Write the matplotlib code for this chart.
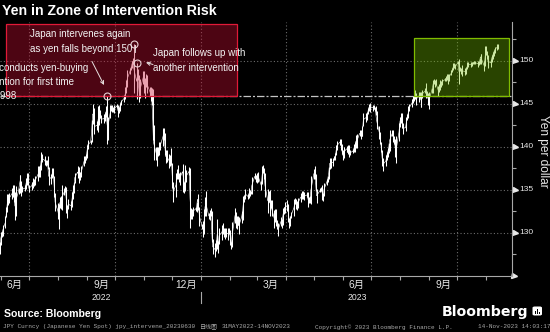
import matplotlib
matplotlib.use('Agg')
import matplotlib.pyplot as plt
import matplotlib.dates as mdates
import matplotlib.transforms as mtransforms
from matplotlib.patches import Rectangle, FancyBboxPatch
from matplotlib import font_manager
import numpy as np
import pandas as pd

W, H = 550, 332

# ---------------- data (USD/JPY daily lows / highs, 31 May 2022 - 14 Nov 2023) ----------------
lows = [
    127.5, 128.6, 129.5, 129.6,
    130.6, 131.8, 132.4, 133.2, 133.4,
    133.9, 134.1, 133.6, 131.5, 132.0,
    134.5, 134.6, 135.7, 134.3, 134.7,
    134.8, 135.1, 135.6, 135.5, 134.7,
    135.0, 135.2, 135.4, 135.6, 135.7,
    136.0, 136.5, 136.5, 137.3, 138.2,
    137.9, 137.7, 137.9, 137.4, 135.6,
    135.7, 136.4, 136.5, 134.2, 132.5,
    131.6, 130.4, 132.9, 132.8, 132.6,
    134.4, 134.7, 132.3, 131.7, 132.7,
    132.6, 133.0, 133.9, 134.6, 135.8,
    136.4, 135.8, 136.4, 136.1, 136.5,
    137.8, 138.1, 138.4, 138.7, 139.7,
    140.3, 140.6, 142.6, 142.9, 141.5,
    142.0, 141.7, 142.5, 143.3, 142.7,
    142.7, 143.0, 143.4, 140.3, 140.8,
    143.3, 144.2, 144.0, 144.0, 143.9,
    144.5, 143.5, 143.9, 144.1, 144.8,
    145.2, 145.3, 145.6, 146.3, 146.9,
    148.5, 148.9, 149.2, 149.6, 146.2,
    145.5, 147.8, 146.0, 145.2, 145.7,
    147.3, 146.2, 145.7, 147.0, 146.3,
    145.9, 145.3, 144.9, 140.8, 138.5,
    138.4, 137.7, 138.9, 139.0, 139.6,
    140.1, 140.8, 139.0, 138.1, 138.2,
    137.5, 137.7, 137.9, 135.2, 133.6,
    134.1, 136.2, 136.3, 135.9, 135.6,
    136.2, 134.7, 134.6, 134.9, 135.9,
    136.7, 130.6, 131.6, 131.6, 132.0,
    132.5, 132.4, 133.3, 132.6, 130.8,
    130.4, 129.5, 129.9, 131.9, 131.9,
    131.6, 131.5, 131.9, 128.9, 127.5,
    127.2, 127.9, 128.1, 127.6, 128.7,
    129.2, 129.9, 129.5, 129.3, 129.5,
    129.2, 129.8, 128.6, 128.1, 128.3,
    131.1, 130.5, 130.4, 130.9, 129.8,
    131.1, 131.5, 132.7, 133.6, 133.9,
    133.9, 134.0, 134.3, 134.5, 134.5,
    136.2, 135.9, 135.8, 136.4, 135.9,
    135.0, 135.7, 136.9, 136.2, 134.1,
    132.3, 133.6, 132.0, 132.9, 131.9,
    130.6, 131.3, 130.8, 130.4, 129.6,
    130.8, 130.5, 130.9, 132.2, 132.3,
    132.5, 131.3, 130.6, 130.8, 131.7,
    132.0, 133.3, 132.8, 132.6, 132.9,
    133.6, 133.9, 134.1, 133.9, 133.8,
    134.1, 133.0, 133.4, 133.4, 133.3,
    136.2, 136.3, 134.9, 133.5, 133.9,
    134.7, 134.8, 133.8, 133.7, 134.3,
    135.5, 135.9, 136.2, 137.4, 137.5,
    137.7, 138.4, 138.5, 139.0, 139.6,
    140.2, 139.6, 139.1, 138.4, 138.7,
    139.4, 139.4, 139.1, 138.8, 139.0,
    139.3, 139.4, 139.4, 139.9, 139.8,
    141.2, 140.9, 141.2, 141.2, 142.4,
    142.9, 143.1, 143.8, 144.2, 144.0,
    144.2, 144.4, 144.1, 143.7, 142.1,
    140.9, 140.3, 139.4, 137.8, 137.2,
    137.7, 138.5, 138.8, 139.3, 139.5,
    141.3, 140.6, 140.3, 138.8, 138.1,
    140.7, 142.3, 142.8, 142.2, 141.5,
    141.8, 142.5, 143.1, 143.3, 144.1,
    144.6, 145.1, 145.3, 145.5, 144.9,
    145.2, 145.7, 144.6, 144.6, 145.7,
    146.2, 145.7, 145.8, 144.9, 144.4,
    146.3, 146.2, 147.3, 147.0, 147.2,
    145.9, 146.4, 146.6, 147.0, 147.2,
    147.6, 147.6, 147.7, 147.3, 147.6,
    148.3, 148.7, 148.9, 149.1, 149.0,
    149.6, 147.3, 148.8, 148.4, 148.2,
    148.3, 148.5, 148.7, 149.0, 149.3,
    149.3, 149.4, 149.6, 149.6, 149.6,
    149.3, 149.5, 149.6, 150.1, 149.6,
    148.8, 149.4, 150.7, 150.2, 149.2,
    149.3, 149.9, 150.2, 150.6, 150.9,
    151.3, 151.4,
]
highs = [
    128.9, 130.1, 130.2, 130.9,
    131.9, 133.0, 134.5, 134.5, 134.6,
    135.2, 135.5, 135.6, 134.7, 135.4,
    135.2, 136.7, 136.7, 136.0, 135.4,
    135.6, 136.4, 136.9, 137.0, 135.6,
    135.9, 136.4, 136.2, 136.1, 136.6,
    137.7, 137.8, 137.9, 139.4, 139.1,
    138.9, 138.4, 138.4, 138.9, 137.6,
    136.8, 137.5, 137.5, 136.6, 134.6,
    133.4, 133.3, 134.1, 134.3, 135.5,
    135.2, 135.4, 135.3, 133.2, 133.9,
    133.7, 134.7, 135.5, 135.9, 137.0,
    137.7, 137.6, 137.2, 137.1, 137.7,
    138.9, 138.9, 139.1, 140.2, 140.8,
    140.8, 143.1, 145.0, 144.5, 143.2,
    143.0, 144.7, 144.9, 144.3, 143.7,
    143.8, 143.9, 144.7, 145.9, 143.5,
    144.8, 144.9, 144.9, 144.6, 144.9,
    145.0, 144.9, 144.6, 145.1, 145.4,
    145.9, 146.0, 146.9, 147.7, 148.9,
    149.1, 149.4, 150.0, 150.3, 151.9,
    149.7, 149.0, 148.3, 146.7, 147.9,
    148.8, 148.8, 148.0, 148.4, 148.3,
    147.0, 146.9, 146.8, 146.7, 142.5,
    140.0, 140.0, 140.0, 140.5, 140.5,
    142.2, 142.2, 141.6, 139.6, 139.6,
    139.1, 139.0, 139.9, 138.1, 135.9,
    137.0, 137.4, 137.9, 136.9, 137.1,
    138.0, 137.9, 135.9, 137.9, 137.3,
    137.6, 137.5, 132.9, 132.7, 133.0,
    133.0, 133.6, 134.5, 134.0, 133.0,
    131.0, 131.4, 132.7, 134.1, 134.8,
    132.3, 132.6, 132.9, 132.5, 129.3,
    128.8, 129.1, 131.6, 129.0, 130.6,
    130.9, 131.1, 130.6, 130.6, 130.5,
    130.5, 130.5, 130.3, 128.9, 131.2,
    132.9, 132.4, 131.9, 132.0, 131.8,
    132.5, 133.3, 134.3, 134.4, 135.1,
    134.5, 135.2, 135.0, 134.9, 136.5,
    136.9, 136.7, 136.9, 137.1, 137.0,
    136.0, 137.8, 137.9, 137.5, 136.9,
    135.1, 134.9, 135.0, 133.8, 133.8,
    132.6, 132.7, 132.7, 131.5, 131.1,
    131.8, 131.6, 132.9, 133.0, 133.6,
    133.8, 133.3, 131.7, 132.0, 132.4,
    133.9, 134.0, 133.9, 133.7, 134.0,
    134.6, 134.5, 134.9, 134.9, 134.7,
    134.7, 134.7, 134.1, 134.3, 136.6,
    137.4, 137.8, 136.8, 135.1, 135.0,
    135.2, 135.3, 135.5, 134.6, 135.8,
    136.3, 136.6, 137.6, 138.7, 138.7,
    138.7, 138.9, 139.3, 140.2, 140.7,
    140.9, 140.9, 140.3, 139.6, 140.0,
    140.1, 139.9, 140.2, 140.2, 139.6,
    139.7, 140.3, 140.5, 141.4, 141.5,
    141.9, 141.9, 142.0, 142.4, 143.9,
    143.9, 144.0, 144.5, 145.0, 145.1,
    144.9, 144.8, 144.6, 144.7, 144.1,
    142.4, 141.7, 140.6, 139.6, 138.7,
    139.0, 139.4, 139.9, 140.4, 142.0,
    141.9, 141.9, 141.3, 140.9, 141.2,
    142.7, 143.5, 143.9, 143.9, 142.8,
    142.6, 143.4, 143.8, 144.7, 145.0,
    145.6, 145.9, 146.4, 146.6, 146.2,
    146.4, 146.4, 146.4, 146.1, 146.6,
    146.8, 147.4, 146.5, 146.3, 146.4,
    146.8, 147.8, 147.9, 147.8, 147.9,
    147.1, 147.3, 147.7, 147.6, 147.9,
    148.0, 148.2, 148.5, 148.4, 148.4,
    148.9, 149.2, 149.7, 149.7, 149.6,
    150.0, 150.2, 149.3, 149.2, 149.5,
    149.2, 149.0, 149.3, 149.8, 149.8,
    149.8, 149.9, 149.9, 150.0, 150.0,
    150.0, 150.0, 150.3, 150.8, 150.8,
    150.0, 151.7, 151.7, 151.1, 150.7,
    150.2, 150.7, 151.0, 151.2, 151.6,
    151.9, 151.9,
]
dates = pd.bdate_range('2022-05-31', periods=len(lows))

intervention_dates = ['2022-09-22', '2022-10-21', '2022-10-24']
intervention_levels = [145.9, 151.94, 149.7]
threshold = 145.9
yticks = [130, 135, 140, 145, 150]
month_labels = ['6月', '9月', '12月', '3月', '6月', '9月']
month_label_dates = ['2022-06-16', '2022-09-16', '2022-12-16', '2023-03-16', '2023-06-16', '2023-09-16']
year_labels = ['2022', '2023']
year_label_dates = ['2022-09-16', '2023-06-16']
grid_dates = ['2022-07-01', '2022-10-01', '2023-01-01', '2023-04-01', '2023-07-01', '2023-10-01']
red_zone = ('2022-06-06 12:00', '2023-02-08 14:00', 145.9, 154.3)
green_zone = ('2023-08-15 12:00', '2023-11-25 10:00', 145.9, 152.6)

# ---------------- fonts ----------------
names = {f.name for f in font_manager.fontManager.ttflist}
HAS_NARROW = 'Liberation Sans Narrow' in names
NARROW = ['Liberation Sans Narrow', 'Noto Sans CJK JP'] if HAS_NARROW else ['Liberation Sans', 'Noto Sans CJK JP']
NSCALE = 1.0 if HAS_NARROW else 0.82
SANS = ['Liberation Sans', 'DejaVu Sans']
MONO = ['Liberation Mono', 'Noto Sans CJK SC']

GRID = '#6c6c6c'
AXC = '#a8a8a8'
TXT = '#e8e8e8'

fig = plt.figure(figsize=(W / 100, H / 100), dpi=100, facecolor='black')


def fx(x):
    return x / W


def fy(y):
    return 1 - y / H


AX_TOP, AX_BOT, AX_RIGHT = 22.0, 275.7, 511.7
ax = fig.add_axes([0, fy(AX_BOT), fx(AX_RIGHT), (AX_BOT - AX_TOP) / H])
ax.set_facecolor('black')
ax.set_xlim(pd.Timestamp('2022-05-31 04:00'), pd.Timestamp('2023-11-28 07:00'))
ax.set_ylim(125.0, 154.5)

# grid
for d in grid_dates:
    ax.axvline(pd.Timestamp(d), color=GRID, lw=0.8, ls=(0, (1, 2)), zorder=1)
for v in yticks:
    ax.axhline(v, color=GRID, lw=0.8, ls=(0, (1, 2)), zorder=1)

# threshold dashed line
ax.axhline(threshold, color='#c4c4c4', lw=0.9, dashes=(6, 1.6, 1.6, 1.6), zorder=2)

# series: daily high-low bars
lo = np.array(lows)
hi = np.array(highs)
ax.vlines(dates, lo, hi, color='white', lw=0.75, zorder=3)
ax.plot(dates, (lo + hi) / 2, color='white', lw=0.45, zorder=3)

# zones


def zone(z, face, alpha, edge):
    x0 = mdates.date2num(pd.Timestamp(z[0]))
    x1 = mdates.date2num(pd.Timestamp(z[1]))
    ax.add_patch(Rectangle((x0, z[2]), x1 - x0, z[3] - z[2], facecolor=face, alpha=alpha,
                           edgecolor='none', zorder=4))
    ax.add_patch(Rectangle((x0, z[2]), x1 - x0, z[3] - z[2], fill=False, edgecolor=edge,
                           lw=0.9, zorder=4.5))


zone(red_zone, (0.78, 0.06, 0.2), 0.39, '#e01a38')
zone(green_zone, (0.45, 0.74, 0.0), 0.36, '#80bc00')

# intervention circles
ax.plot(pd.to_datetime(intervention_dates), intervention_levels, ls='none', marker='o',
        mfc='none', mec='#e8d0d4', ms=5, mew=0.8, zorder=6)

# spines & ticks
for s in ['top', 'left']:
    ax.spines[s].set_visible(False)
for s in ['right', 'bottom']:
    ax.spines[s].set_color(AXC)
    ax.spines[s].set_linewidth(0.8)
ax.xaxis.set_major_locator(mdates.MonthLocator())
ax.tick_params(axis='x', length=3, width=0.8, color=AXC, labelbottom=False, direction='out')
ax.yaxis.tick_right()
ax.set_yticks([127.5, 132.5, 137.5, 142.5, 147.5, 152.5])
ax.tick_params(axis='y', length=3, width=0.8, color=AXC, labelright=False, direction='out')

tr_y = mtransforms.blended_transform_factory(ax.transAxes, ax.transData)
tr_x = mtransforms.blended_transform_factory(ax.transData, ax.transAxes)
ax.plot([1.0068] * len(yticks), yticks, ls='none', marker='>', ms=3.6, color=TXT,
        transform=tr_y, clip_on=False)
for v in yticks:
    ax.text(1.0145, v, f'{v}', transform=tr_y, va='center', ha='left',
            fontsize=7.3 * NSCALE, color=TXT, family=NARROW)
# x-axis arrow
ax.plot([1.004], [0], ls='none', marker='>', ms=3.6, color=TXT, transform=ax.transAxes, clip_on=False)


def ay(ypx):
    return (AX_BOT - ypx) / (AX_BOT - AX_TOP)


for lab, d in zip(month_labels, month_label_dates):
    ax.text(pd.Timestamp(d), ay(285.2), lab, transform=tr_x, ha='center', va='center',
            fontsize=7.4, color=TXT, family=NARROW)
for lab, d in zip(year_labels, year_label_dates):
    ax.text(pd.Timestamp(d), ay(297.0), lab, transform=tr_x, ha='center', va='center',
            fontsize=7.6 * NSCALE, color=TXT, family=NARROW)
ax.plot([pd.Timestamp('2023-01-01')] * 2, [ay(292), ay(303)], transform=tr_x, clip_on=False,
        color=AXC, lw=0.8)

# ---------------- texts ----------------
fig.text(fx(2), fy(15.2), 'Yen in Zone of Intervention Risk', fontsize=10.2, fontweight='bold',
         color='white', family=SANS, va='baseline', ha='left')
fig.text(fx(543), fy(151), 'Yen per dollar', rotation=270, fontsize=8.6, color=TXT,
         family=SANS, va='center', ha='center')

ANN = dict(fontsize=7.0, color='#f4f4f4', family=SANS, va='baseline', ha='left', zorder=10)
fig.text(fx(30), fy(37.3), 'Japan intervenes again', **ANN)
fig.text(fx(30), fy(51.5), 'as yen falls beyond 150', **ANN)
fig.text(fx(153), fy(56.3), 'Japan follows up with', **ANN)
fig.text(fx(153), fy(71.0), 'another intervention', **ANN)
# the first annotation runs off the left edge of the picture, as in the original
fig.text(fx(-29.5), fy(70.6), 'Japan conducts yen-buying', **ANN)
fig.text(fx(-29.5), fy(85.0), 'intervention for first time', **ANN)
fig.text(fx(-31), fy(99.4), 'since 1998', **ANN)

ARW = dict(arrowstyle='->', color='#e8e0e0', lw=0.7, shrinkA=0, shrinkB=0, mutation_scale=6)
fig.add_artist(matplotlib.patches.FancyArrowPatch((fx(92), fy(61.5)), (fx(104), fy(85)),
                                                  transform=fig.transFigure, **ARW))
fig.add_artist(matplotlib.patches.FancyArrowPatch((fx(153), fy(64.5)), (fx(146), fy(62.5)),
                                                  transform=fig.transFigure, **ARW))
fig.add_artist(matplotlib.lines.Line2D([fx(135.3), fx(135.6)], [fy(52.5), fy(45.5)],
                                       transform=fig.transFigure, color='#e8e0e0', lw=0.7))

fig.text(fx(4), fy(317.0), 'Source: Bloomberg', fontsize=7.6, fontweight='bold', color='white',
         family=SANS, va='baseline', ha='left')
fig.text(fx(442), fy(316.0), 'Bloomberg', fontsize=10.2, fontweight='bold', color='white',
         family=['DejaVu Sans'], va='baseline', ha='left')
icon = FancyBboxPatch((fx(532.5), fy(315.5)), fx(9.5), 9 / H,
                      boxstyle='round,pad=0,rounding_size=0.004', transform=fig.transFigure,
                      facecolor='white', edgecolor='none')
fig.add_artist(icon)
for bx, bh in [(535.0, 3.0), (537.0, 5.0), (539.0, 2.0)]:
    fig.add_artist(Rectangle((fx(bx), fy(313.5)), fx(1.1), bh / H, transform=fig.transFigure,
                             facecolor='black', edgecolor='none'))

FOOT = dict(fontsize=4.3, color='#a8a8a8', family=MONO, va='center', ha='left')
fig.text(fx(3), fy(326.7), 'JPY Curncy (Japanese Yen Spot) jpy_intervene_20230630', **FOOT)
fig.text(fx(200), fy(326.7), '日线图', **FOOT)
fig.text(fx(222), fy(326.7), '31MAY2022-14NOV2023', **FOOT)
fig.text(fx(315), fy(326.7), 'Copyright© 2023 Bloomberg Finance L.P.', **FOOT)
fig.text(fx(478), fy(326.7), '14-Nov-2023 14:03:17', **FOOT)

fig.savefig('out.png', dpi=100, facecolor='black')
